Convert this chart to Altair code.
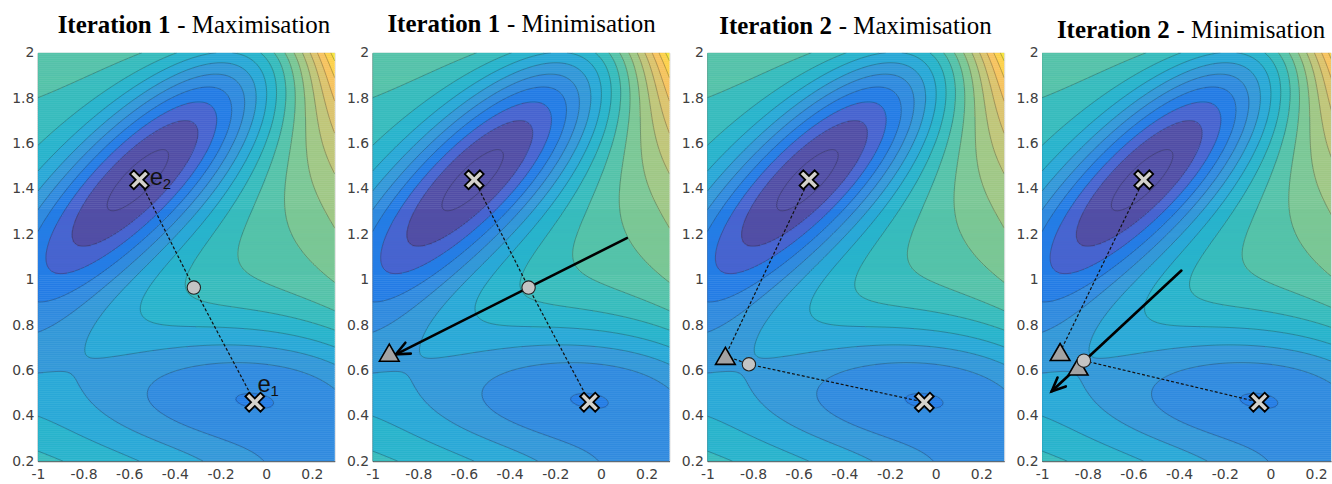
import numpy as np
import pandas as pd
import altair as alt
from collections import defaultdict

# ---------------- data ----------------
# Potential surface (Mueller-Brown parameters)
MB_A = [-200.0, -100.0, -170.0, 15.0]
MB_a = [-1.0, -1.0, -6.5, 0.7]
MB_b = [0.0, 0.0, 11.0, 0.6]
MB_c = [-10.0, -10.0, -6.5, 0.7]
MB_x0 = [1.0, 0.0, -0.5, -1.0]
MB_y0 = [0.0, 0.5, 1.5, 1.0]
LEVELS = [-140, -120, -100, -80, -60, -40, -20, 0, 20, 40, 60, 80, 100, 120, 140, 160]

X_TICKS = [-1, -0.8, -0.6, -0.4, -0.2, 0, 0.2]
Y_TICKS = [0.2, 0.4, 0.6, 0.8, 1, 1.2, 1.4, 1.6, 1.8, 2]

TITLES_BOLD = ["Iteration 1", "Iteration 1", "Iteration 2", "Iteration 2"]
TITLES_REST = ["- Maximisation", "- Minimisation", "- Maximisation", "- Minimisation"]

CROSS_X = [-0.555, -0.05]
CROSS_Y = [1.44, 0.46]
CIRCLE_X = [-0.317, -0.317, -0.818, -0.817]
CIRCLE_Y = [0.965, 0.965, 0.627, 0.643]
TRI_PANEL = [1, 2, 3, 3]
TRI_X = [-0.927, -0.921, -0.921, -0.842]
TRI_Y = [0.678, 0.664, 0.681, 0.617]
ARROW_PANEL = [1, 3]
ARROW_X0 = [0.113, -0.39]
ARROW_Y0 = [1.183, 1.04]
ARROW_X1 = [-0.898, -0.958]
ARROW_Y1 = [0.671, 0.508]
LABEL_TEXT = ["e", "e"]
LABEL_SUB = ["2", "1"]
LABEL_X = [-0.51, -0.038]
LABEL_Y = [1.417, 0.504]
# dashed connections per panel (named points)
DASHED = [
    [["E2", "C", "E1"]],
    [["E2", "C", "E1"]],
    [["E2", "T0", "C", "E1"]],
    [["E2", "T0"], ["C", "E1"]],
]

# ---------------- styles ----------------
PARULA = [
    (0.2081, 0.1663, 0.5292), (0.2116, 0.1898, 0.5777), (0.2123, 0.2138, 0.6270), (0.2081, 0.2386, 0.6771),
    (0.1959, 0.2645, 0.7279), (0.1707, 0.2919, 0.7792), (0.1253, 0.3242, 0.8303), (0.0591, 0.3598, 0.8683),
    (0.0117, 0.3875, 0.8820), (0.0060, 0.4086, 0.8828), (0.0165, 0.4266, 0.8786), (0.0329, 0.4430, 0.8720),
    (0.0498, 0.4586, 0.8641), (0.0629, 0.4737, 0.8554), (0.0723, 0.4887, 0.8467), (0.0779, 0.5040, 0.8384),
    (0.0793, 0.5200, 0.8312), (0.0749, 0.5375, 0.8263), (0.0641, 0.5570, 0.8240), (0.0488, 0.5772, 0.8228),
    (0.0343, 0.5966, 0.8199), (0.0265, 0.6137, 0.8135), (0.0239, 0.6287, 0.8038), (0.0231, 0.6418, 0.7913),
    (0.0228, 0.6535, 0.7768), (0.0267, 0.6642, 0.7607), (0.0384, 0.6743, 0.7436), (0.0590, 0.6838, 0.7254),
    (0.0843, 0.6928, 0.7062), (0.1133, 0.7015, 0.6859), (0.1453, 0.7098, 0.6646), (0.1801, 0.7177, 0.6424),
    (0.2178, 0.7250, 0.6193), (0.2586, 0.7317, 0.5954), (0.3022, 0.7376, 0.5712), (0.3482, 0.7424, 0.5473),
    (0.3953, 0.7459, 0.5244), (0.4420, 0.7481, 0.5033), (0.4871, 0.7491, 0.4840), (0.5300, 0.7491, 0.4661),
    (0.5709, 0.7485, 0.4494), (0.6099, 0.7473, 0.4337), (0.6473, 0.7456, 0.4188), (0.6834, 0.7435, 0.4044),
    (0.7184, 0.7411, 0.3905), (0.7525, 0.7384, 0.3768), (0.7858, 0.7356, 0.3633), (0.8185, 0.7327, 0.3498),
    (0.8507, 0.7299, 0.3360), (0.8824, 0.7274, 0.3217), (0.9139, 0.7258, 0.3063), (0.9450, 0.7261, 0.2886),
    (0.9739, 0.7314, 0.2666), (0.9938, 0.7455, 0.2403), (0.9990, 0.7653, 0.2164), (0.9955, 0.7861, 0.1967),
    (0.9880, 0.8066, 0.1794), (0.9789, 0.8271, 0.1633), (0.9697, 0.8481, 0.1475), (0.9626, 0.8705, 0.1309),
    (0.9589, 0.8949, 0.1132), (0.9598, 0.9218, 0.0948), (0.9661, 0.9514, 0.0755), (0.9763, 0.9831, 0.0538),
]
WHITE_MIX = 0.14

X_MIN, X_MAX, Y_MIN, Y_MAX = -1.0, 0.3, 0.2, 2.0
PANEL_H = 410
PANEL_W = [298, 298, 298, 290]
BOLD_END = [133, 128, 125, 128]
TITLE_Y = [-20, -21, -19, -15]
SPACING = 10
TICK_FONT = "DejaVu Sans"
TICK_SIZE = 14
TICK_COLOR = "#404040"


def potential(x, y):
    v = 0.0
    for k in range(4):
        dx = x - MB_x0[k]
        dy = y - MB_y0[k]
        v = v + MB_A[k] * np.exp(MB_a[k] * dx * dx + MB_b[k] * dx * dy + MB_c[k] * dy * dy)
    return v


def parula(t):
    t = min(max(t, 0.0), 1.0)
    p = t * (len(PARULA) - 1)
    i = int(np.floor(p))
    if i >= len(PARULA) - 1:
        c = PARULA[-1]
    else:
        f = p - i
        c = tuple(PARULA[i][k] * (1 - f) + PARULA[i + 1][k] * f for k in range(3))
    c = tuple(v * (1 - WHITE_MIX) + WHITE_MIX for v in c)
    return "#%02x%02x%02x" % tuple(int(round(255 * v)) for v in c)


# ---------- filled bands as row runs ----------
NXF, NYF = 330, 205
xe = np.linspace(X_MIN, X_MAX, NXF + 1)
ye = np.linspace(Y_MIN, Y_MAX, NYF + 1)
xc = (xe[:-1] + xe[1:]) / 2
yc = (ye[:-1] + ye[1:]) / 2
Zc = potential(xc[None, :], yc[:, None])
zmin, zmax = float(Zc.min()), float(Zc.max())
band = np.searchsorted(np.array(LEVELS, dtype=float), Zc, side="right")
band_col = []
for k in range(len(LEVELS) + 1):
    lower = LEVELS[0] if k == 0 else LEVELS[k - 1]
    band_col.append(parula((lower - zmin) / (zmax - zmin) * 0.97))

rows = []
for i in range(NYF):
    r = band[i]
    start = 0
    for j in range(1, NXF + 1):
        if j == NXF or r[j] != r[start]:
            rows.append((xe[start], xe[j], ye[i], ye[i + 1], band_col[r[start]]))
            start = j
fill_df = pd.DataFrame(rows, columns=["x", "x2", "y", "y2", "c"])

# ---------- contour lines (marching squares) ----------
xn = np.linspace(X_MIN, X_MAX, 131)
yn = np.linspace(Y_MIN, Y_MAX, 181)
Zn = potential(xn[None, :], yn[:, None])


def march(level):
    above = Zn >= level
    pts = {}

    def edge_pt(key):
        if key in pts:
            return pts[key]
        kind, i, j = key
        if kind == "h":
            z1, z2 = Zn[i, j], Zn[i, j + 1]
            t = (level - z1) / (z2 - z1)
            p = (xn[j] + t * (xn[j + 1] - xn[j]), yn[i])
        else:
            z1, z2 = Zn[i, j], Zn[i + 1, j]
            t = (level - z1) / (z2 - z1)
            p = (xn[j], yn[i] + t * (yn[i + 1] - yn[i]))
        pts[key] = p
        return p

    a00 = above[:-1, :-1]
    a01 = above[:-1, 1:]
    a10 = above[1:, :-1]
    a11 = above[1:, 1:]
    s = a00.astype(int) + a01 + a10 + a11
    segs = []
    for i, j in np.argwhere((s > 0) & (s < 4)):
        E = {"b": ("h", i, j), "r": ("v", i, j + 1), "t": ("h", i + 1, j), "l": ("v", i, j)}
        flags = [("b", a00[i, j] != a01[i, j]), ("r", a01[i, j] != a11[i, j]),
                 ("t", a10[i, j] != a11[i, j]), ("l", a00[i, j] != a10[i, j])]
        present = [k for k, f in flags if f]
        if len(present) == 2:
            segs.append((E[present[0]], E[present[1]]))
        elif len(present) == 4:
            center = (Zn[i, j] + Zn[i, j + 1] + Zn[i + 1, j] + Zn[i + 1, j + 1]) / 4 >= level
            if center == a00[i, j]:
                segs.append((E["b"], E["r"]))
                segs.append((E["t"], E["l"]))
            else:
                segs.append((E["b"], E["l"]))
                segs.append((E["t"], E["r"]))
    adj = defaultdict(list)
    for si, (k1, k2) in enumerate(segs):
        adj[k1].append(si)
        adj[k2].append(si)
    used = [False] * len(segs)
    paths = []
    for si in range(len(segs)):
        if used[si]:
            continue
        used[si] = True
        path = [segs[si][0], segs[si][1]]
        for _ in range(2):
            while True:
                end = path[-1]
                nxt = None
                for sj in adj[end]:
                    if not used[sj]:
                        nxt = sj
                        break
                if nxt is None:
                    break
                used[nxt] = True
                a, b = segs[nxt]
                path.append(b if a == end else a)
            path.reverse()
        paths.append([edge_pt(k) for k in path])
    return paths


line_rows = []
pid = 0
for lev in LEVELS:
    for path in march(lev):
        for o, (px, py) in enumerate(path):
            line_rows.append((pid, o, px, py))
        pid += 1
line_df = pd.DataFrame(line_rows, columns=["pid", "o", "x", "y"])

# ---------- build panels ----------
LABEL_EXPR = "replace(format(datum.value, '~g'), '\u2212', '-')"


def make_panel(p):
    w = PANEL_W[p]
    xmax = X_MIN + w * (X_MAX - X_MIN) / PANEL_W[0]
    xs = alt.Scale(domain=[X_MIN, xmax], nice=False, zero=False)
    ys = alt.Scale(domain=[Y_MIN, Y_MAX], nice=False, zero=False)
    xaxis = alt.Axis(values=X_TICKS, labelExpr=LABEL_EXPR, ticks=False, grid=False, title=None,
                     labelFlush=False, labelFont=TICK_FONT, labelFontSize=TICK_SIZE,
                     labelColor=TICK_COLOR, labelPadding=6, domainColor="#262626", domainWidth=0.8)
    yaxis = alt.Axis(values=Y_TICKS, labelExpr=LABEL_EXPR, ticks=False, grid=False, title=None,
                     labelFlush=False, labelFont=TICK_FONT, labelFontSize=TICK_SIZE,
                     labelColor=TICK_COLOR, labelPadding=4, domainColor="#262626", domainWidth=0.8)

    def X(f):
        return alt.X(f, type="quantitative", scale=xs, axis=xaxis)

    def Y(f):
        return alt.Y(f, type="quantitative", scale=ys, axis=yaxis)

    fill = alt.Chart(fill_df).mark_rect(strokeWidth=0.6, clip=True).encode(
        x=X("x"), x2="x2:Q", y=Y("y"), y2="y2:Q",
        color=alt.Color("c:N", scale=None), stroke=alt.Stroke("c:N", scale=None))

    lines = alt.Chart(line_df).mark_line(color="#222222", strokeWidth=0.6, opacity=0.5, clip=True).encode(
        x=X("x"), y=Y("y"), detail="pid:N", order="o:Q")

    pts = {"E2": (CROSS_X[0], CROSS_Y[0]), "E1": (CROSS_X[1], CROSS_Y[1]),
           "C": (CIRCLE_X[p], CIRCLE_Y[p])}
    tris = [(TRI_X[k], TRI_Y[k]) for k in range(len(TRI_X)) if TRI_PANEL[k] == p]
    for k, t in enumerate(tris):
        pts["T%d" % k] = t

    drows = []
    for di, seq in enumerate(DASHED[p]):
        for o, name in enumerate(seq):
            drows.append((di, o, pts[name][0], pts[name][1]))
    dashed = alt.Chart(pd.DataFrame(drows, columns=["g", "o", "x", "y"])).mark_line(
        color="#111111", strokeWidth=1.2, strokeDash=[3, 2]).encode(
        x=X("x"), y=Y("y"), detail="g:N", order="o:Q")

    layers = [fill, lines, dashed]

    # arrows
    arows = []
    gi = 0
    sx = PANEL_W[0] / (X_MAX - X_MIN)
    sy = PANEL_H / (Y_MAX - Y_MIN)
    for k in range(len(ARROW_PANEL)):
        if ARROW_PANEL[k] != p:
            continue
        x0, y0, x1, y1 = ARROW_X0[k], ARROW_Y0[k], ARROW_X1[k], ARROW_Y1[k]
        arows += [(gi, 0, x0, y0), (gi, 1, x1, y1)]
        gi += 1
        dx, dy = (x1 - x0) * sx, (y1 - y0) * sy
        L = np.hypot(dx, dy)
        ux, uy = -dx / L, -dy / L
        hl, ang = 15.0, np.radians(24)
        arms = []
        for sgn in (1, -1):
            ca, sa = np.cos(sgn * ang), np.sin(sgn * ang)
            rx, ry = ux * ca - uy * sa, ux * sa + uy * ca
            arms.append((x1 + rx * hl / sx, y1 + ry * hl / sy))
        arows += [(gi, 0, arms[0][0], arms[0][1]), (gi, 1, x1, y1), (gi, 2, arms[1][0], arms[1][1])]
        gi += 1
    if arows:
        layers.append(alt.Chart(pd.DataFrame(arows, columns=["g", "o", "x", "y"])).mark_line(
            color="#000000", strokeWidth=2.6, strokeCap="round", strokeJoin="miter").encode(
            x=X("x"), y=Y("y"), detail="g:N", order="o:Q"))

    cross_shape = "M-1,-0.6L-0.6,-1L0,-0.4L0.6,-1L1,-0.6L0.4,0L1,0.6L0.6,1L0,0.4L-0.6,1L-1,0.6L-0.4,0Z"
    layers.append(alt.Chart(pd.DataFrame({"x": CROSS_X, "y": CROSS_Y})).mark_point(
        shape=cross_shape, size=360, filled=True, fill="#d4d2cc", stroke="#000000", strokeWidth=1.8,
        opacity=1).encode(x=X("x"), y=Y("y")))
    if tris:
        layers.append(alt.Chart(pd.DataFrame({"x": [t[0] for t in tris], "y": [t[1] for t in tris]})).mark_point(
            shape="triangle-up", size=390, filled=True, fill="#a3a3a3", stroke="#000000", strokeWidth=1.6,
            opacity=1).encode(x=X("x"), y=Y("y")))
    layers.append(alt.Chart(pd.DataFrame({"x": [CIRCLE_X[p]], "y": [CIRCLE_Y[p]]})).mark_point(
        shape="circle", size=180, filled=True, fill="#c4c4c4", stroke="#222222", strokeWidth=1.1,
        opacity=1).encode(x=X("x"), y=Y("y")))

    if p == 0:
        ldf = pd.DataFrame({"x": LABEL_X, "y": LABEL_Y, "t": LABEL_TEXT, "s": LABEL_SUB})
        layers.append(alt.Chart(ldf).mark_text(font="Liberation Sans", fontSize=24, align="left",
                                              baseline="alphabetic", color="#111111").encode(
            x=X("x"), y=Y("y"), text="t:N"))
        layers.append(alt.Chart(ldf).mark_text(font="Liberation Sans", fontSize=15, align="left",
                                              baseline="alphabetic", color="#111111", dx=13, dy=4).encode(
            x=X("x"), y=Y("y"), text="s:N"))

    tb = pd.DataFrame({"t": [TITLES_BOLD[p]]})
    tr = pd.DataFrame({"t": [TITLES_REST[p]]})
    layers.append(alt.Chart(tb).mark_text(font="Liberation Serif", fontSize=25, fontWeight="bold",
                                          align="right", baseline="alphabetic", color="#000000").encode(
        x=alt.value(BOLD_END[p]), y=alt.value(TITLE_Y[p]), text="t:N"))
    layers.append(alt.Chart(tr).mark_text(font="Liberation Serif", fontSize=25, fontWeight="normal",
                                          align="left", baseline="alphabetic", color="#000000").encode(
        x=alt.value(BOLD_END[p] + 7), y=alt.value(TITLE_Y[p]), text="t:N"))

    return alt.layer(*layers).properties(width=w, height=PANEL_H)


chart = alt.hconcat(*[make_panel(p) for p in range(4)], spacing=SPACING).properties(
    padding={"left": 11, "top": 10, "right": 0, "bottom": 0}
).configure_view(stroke=None).configure_axis(
    labelFont=TICK_FONT, labelFontSize=TICK_SIZE, labelColor=TICK_COLOR
).configure(background="white")

chart.save("out.html", embed_options={"renderer": "svg", "actions": False})
